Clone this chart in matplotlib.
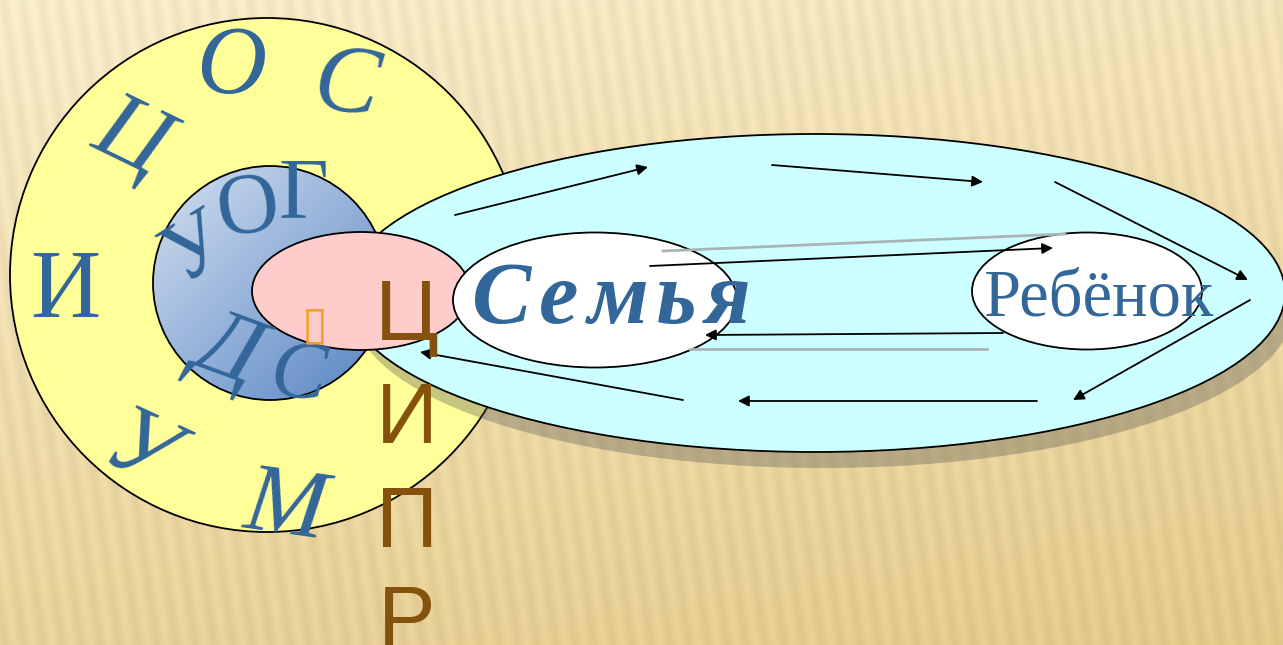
import numpy as np
import matplotlib.pyplot as plt
from matplotlib.patches import Circle, Ellipse

# text content
outer_letters = ['О', 'С', 'Ц', 'И', 'У', 'М']
inner_top = ['У', 'О', 'Г']
inner_bottom = ['Д', 'С']
vertical_letters = ['Ц', 'И', 'П', 'Р']
family_label = 'Семья'
child_label = 'Ребёнок'

# arrows: (start, tip) in pixel coordinates of the slide
arrow_starts = [(455, 215), (772, 165), (1055, 182), (1250, 300),
                (1037, 401), (683, 400), (1003, 333), (650, 266)]
arrow_tips = [(648, 167), (983, 182), (1248, 280), (1073, 400),
              (738, 401), (420, 352), (705, 335), (1053, 248)]
gray_lines = [((663, 251), (1065, 234)), ((690, 349), (987, 349))]

W, H = 1283, 645
fig = plt.figure(figsize=(W / 100, H / 100), dpi=100)
ax = fig.add_axes([0, 0, 1, 1])
ax.set_xlim(0, W)
ax.set_ylim(H, 0)
ax.axis('off')

# striped beige background
yy, xx = np.mgrid[0:H, 0:W]
t = yy / H * 0.75 + xx / W * 0.25
top = np.array([252, 240, 205]) / 255
bot = np.array([232, 206, 140]) / 255
bg = top[None, None, :] * (1 - t[..., None]) + bot[None, None, :] * t[..., None]
stripe = 1 - 0.045 * (0.5 + 0.5 * np.sin(2 * np.pi * (xx + 0.15 * (H - yy)) / 19))
bg = bg * stripe[..., None]
ax.imshow(np.clip(bg, 0, 1), extent=(0, W, H, 0), zorder=0, interpolation='bilinear')

blue = '#336699'

# yellow circle
ax.add_patch(Circle((267, 275), 257, facecolor='#FFFF99', edgecolor='black', lw=1.3, zorder=1))

# cyan ellipse with shadow
ax.add_patch(Ellipse((823, 309), 940, 318, facecolor='#505050', alpha=0.33, edgecolor='none', zorder=2))
ax.add_patch(Ellipse((815, 293), 940, 318, facecolor='#CCFFFF', edgecolor='black', lw=1.3, zorder=3))

# blue circle with gradient
bc = Circle((270, 283), 117, facecolor='none', edgecolor='black', lw=1.3, zorder=5)
gy, gx = np.mgrid[0:100, 0:100]
g = (gx[::-1] / 99 + gy / 99) / 2
light = np.array([212, 224, 240]) / 255
dark = np.array([86, 132, 195]) / 255
grad = light[None, None, :] * (1 - g[..., None]) + dark[None, None, :] * g[..., None]
im = ax.imshow(grad, extent=(153, 387, 400, 166), zorder=4, interpolation='bilinear')
im.set_clip_path(Circle((270, 283), 117, transform=ax.transData))
ax.add_patch(bc)

# pink ellipse
ax.add_patch(Ellipse((361, 291), 218, 118, facecolor='#FFCCCC', edgecolor='black', lw=1.3, zorder=6))

# white ellipses
ax.add_patch(Ellipse((595, 300), 284, 135, facecolor='white', edgecolor='black', lw=1.3, zorder=6))
ax.add_patch(Ellipse((1087, 291), 230, 117, facecolor='white', edgecolor='black', lw=1.3, zorder=6))

# gray lines
for (p0, p1) in gray_lines:
    ax.plot([p0[0], p1[0]], [p0[1], p1[1]], color='#AAB4B4', lw=2, zorder=7)

# arrows
for s, e in zip(arrow_starts, arrow_tips):
    ax.annotate('', xy=e, xytext=s,
                arrowprops=dict(arrowstyle='-|>', color='black', lw=1.3,
                                mutation_scale=16, shrinkA=0, shrinkB=0),
                zorder=8)

serif = 'Liberation Serif'

# letters on yellow ring
outer_pos = [(231, 93), (343, 112), (120, 160), (65, 317), (128, 476), (281, 533)]
outer_rot = [0, -8, -26, 0, -25, -8]
outer_style = ['italic', 'italic', 'italic', 'normal', 'italic', 'italic']
for ch, p, r, st in zip(outer_letters, outer_pos, outer_rot, outer_style):
    ax.text(p[0], p[1], ch, fontsize=70, family=serif, style=st, color=blue,
            ha='center', va='baseline', rotation=r, rotation_mode='anchor', zorder=9)

# letters on blue circle
top_pos = [(208, 268), (251, 232), (303, 217)]
top_rot = [32, 8, 0]
for ch, p, r in zip(inner_top, top_pos, top_rot):
    ax.text(p[0], p[1], ch, fontsize=62, family=serif, color=blue,
            ha='center', va='baseline', rotation=r, rotation_mode='anchor', zorder=9)
bottom_pos = [(220, 372), (296, 397)]
bottom_rot = [-20, -5]
bottom_size = [70, 60]
for ch, p, r, fs in zip(inner_bottom, bottom_pos, bottom_rot, bottom_size):
    ax.text(p[0], p[1], ch, fontsize=fs, family=serif, style='italic', color=blue,
            ha='center', va='baseline', rotation=r, rotation_mode='anchor', zorder=9)

# orange placeholder glyph
ax.text(315, 338, '\u25AF', fontsize=34, family='DejaVu Sans', color='#F0A030',
        ha='center', va='baseline', zorder=9)

# vertical brown letters
vert_y = [340, 443, 547, 646]
for ch, y in zip(vertical_letters, vert_y):
    ax.text(407, y, ch, fontsize=62, family='Liberation Sans', color='#84520C',
            ha='center', va='baseline', zorder=10)

# "Семья" with extra letter spacing
renderer = fig.canvas.get_renderer()
inv = ax.transData.inverted()
x = 472
for ch in family_label:
    tx = ax.text(x, 323, ch, fontsize=64, family=serif, weight='bold', style='italic',
                 color=blue, ha='left', va='baseline', zorder=9)
    bb = tx.get_window_extent(renderer)
    w = inv.transform((bb.x1, 0))[0] - inv.transform((bb.x0, 0))[0]
    x += w + 8

ax.text(1098, 315, child_label, fontsize=48, family=serif, color=blue,
        ha='center', va='baseline', zorder=9)

fig.savefig('out.png', dpi=100)
